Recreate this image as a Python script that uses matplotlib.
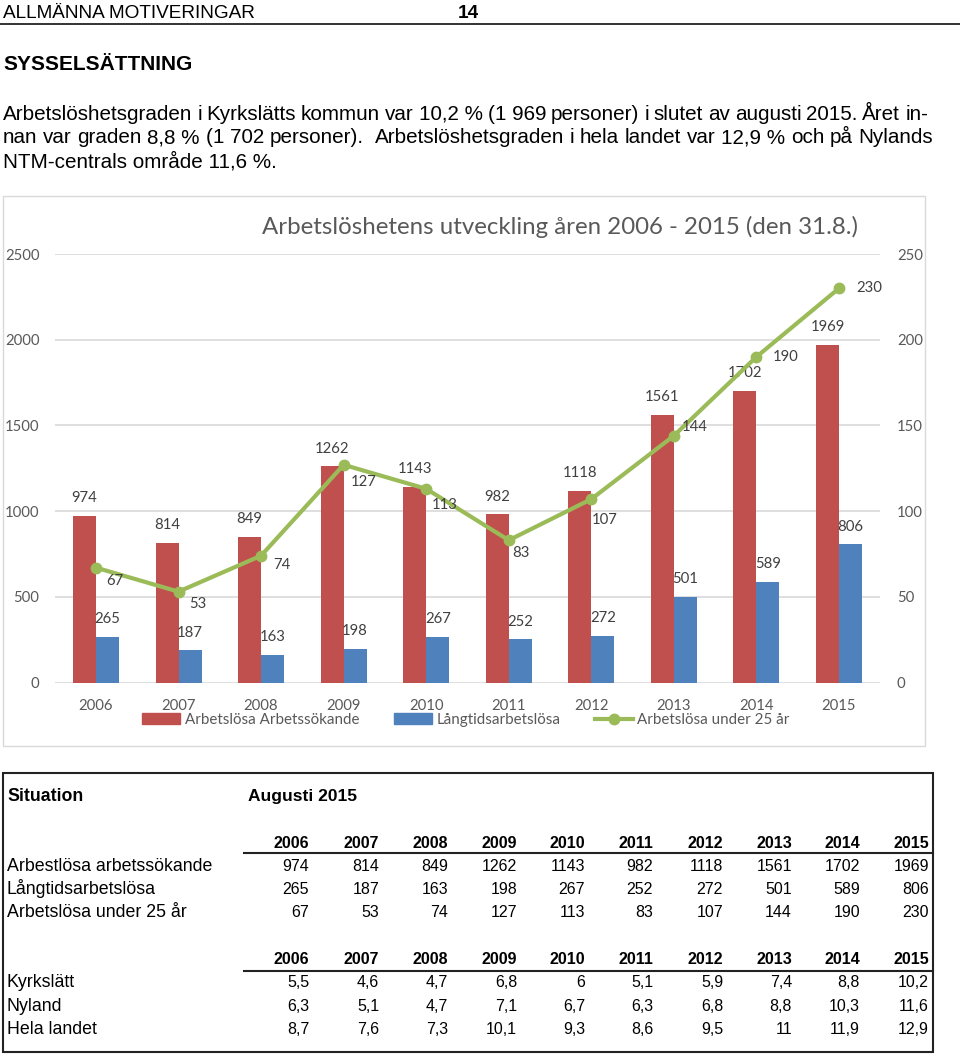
import matplotlib

matplotlib.use("Agg")
import matplotlib.pyplot as plt
from matplotlib.lines import Line2D
from matplotlib.patches import Patch, Rectangle

W, H = 960, 1055

years = ["2006", "2007", "2008", "2009", "2010", "2011", "2012", "2013", "2014", "2015"]
arbetssokande = [974, 814, 849, 1262, 1143, 982, 1118, 1561, 1702, 1969]
langtid = [265, 187, 163, 198, 267, 252, 272, 501, 589, 806]
under25 = [67, 53, 74, 127, 113, 83, 107, 144, 190, 230]

kyrkslatt = [5.5, 4.6, 4.7, 6.8, 6, 5.1, 5.9, 7.4, 8.8, 10.2]
nyland = [6.3, 5.1, 4.7, 7.1, 6.7, 6.3, 6.8, 8.8, 10.3, 11.6]
hela_landet = [8.7, 7.6, 7.3, 10.1, 9.3, 8.6, 9.5, 11, 11.9, 12.9]

RED = "#C0504D"
BLUE = "#4F81BD"
GREEN = "#9BBB59"
GRID = "#D9D9D9"
AXIS_TXT = "#595959"
LABEL_TXT = "#404040"

DOC_FONT = ["Liberation Sans", "DejaVu Sans"]
CHART_FONT = ["Lato", "DejaVu Sans"]


def fx(x):
    return x / W


def fy(y):
    return 1 - y / H


def comma(v):
    return f"{v:g}".replace(".", ",")


def justified(fig, text, x0, x1, base, **kw):
    """Place words so the line runs from x0 to x1 (pixels); a double space gives a double gap."""
    renderer = fig.canvas.get_renderer()
    words = text.split(" ")
    arts = [fig.text(0, fy(base), w, va="baseline", **kw) for w in words]
    widths = [a.get_window_extent(renderer).width if w else 0 for a, w in zip(arts, words)]
    gap = (x1 - x0 - sum(widths)) / (len(words) - 1)
    pos = x0
    for a, w in zip(arts, widths):
        a.set_x(fx(pos))
        pos += w + gap


fig = plt.figure(figsize=(W / 100, H / 100), dpi=100)

# --- page header and paragraph ---
fig.text(fx(3), fy(18), "ALLMÄNNA MOTIVERINGAR", family=DOC_FONT, fontsize=13.7, va="baseline")
fig.text(fx(458), fy(18), "14", family=DOC_FONT, fontsize=13.7, weight="bold", va="baseline")
fig.add_artist(Line2D([0, 1], [fy(24), fy(24)], color="#333333", lw=1.4))
fig.text(fx(3), fy(70), "SYSSELSÄTTNING", family=DOC_FONT, fontsize=15, weight="bold", va="baseline")

paragraph = [
    "Arbetslöshetsgraden i Kyrkslätts kommun var 10,2\u00a0% (1\u00a0969 personer) i slutet av augusti 2015. Året in-",
    "nan var graden 8,8\u00a0% (1\u00a0702 personer).  Arbetslöshetsgraden i hela landet var 12,9\u00a0% och på Nylands",
    "NTM-centrals område 11,6 %.",
]
justified(fig, paragraph[0], 3, 928, 120, family=DOC_FONT, fontsize=14.9)
justified(fig, paragraph[1], 3, 933, 143, family=DOC_FONT, fontsize=14.9)
fig.text(fx(3), fy(167), paragraph[2], family=DOC_FONT, fontsize=14.9, va="baseline")

# --- chart ---
fig.add_artist(Rectangle((fx(3), fy(746)), fx(925) - fx(3), fy(196) - fy(746),
                         transform=fig.transFigure, fill=False, edgecolor=GRID, lw=1))
fig.text(fx(560), fy(227), "Arbetslöshetens utveckling åren 2006 - 2015 (den 31.8.)",
         family=CHART_FONT, fontsize=17.3, color=AXIS_TXT, ha="center", va="center")

ax = fig.add_axes([fx(54.7), fy(682.5), fx(880.3) - fx(54.7), fy(254) - fy(682.5)])
x = list(range(len(years)))
bw = 0.279
red_bars = ax.bar([i - bw / 2 for i in x], arbetssokande, bw, color=RED, zorder=2)
blue_bars = ax.bar([i + bw / 2 for i in x], langtid, bw, color=BLUE, zorder=2)
ax.set_xlim(-0.5, len(years) - 0.5)
ax.set_ylim(0, 2500)
ax.set_yticks(range(0, 2501, 500))
ax.set_xticks(x)
ax.set_xticklabels(years)
ax.yaxis.grid(True, color=GRID, lw=1.2, zorder=0)
ax.set_axisbelow(True)
for s in ax.spines.values():
    s.set_visible(False)
ax.tick_params(length=0, labelsize=10.7, labelcolor=AXIS_TXT)
ax.tick_params(axis="y", pad=11)
ax.tick_params(axis="x", pad=12)
for t in ax.get_xticklabels() + ax.get_yticklabels():
    t.set_family(CHART_FONT)

for bars in (red_bars, blue_bars):
    for b in bars:
        ax.annotate(f"{int(b.get_height())}", (b.get_x() + b.get_width() / 2, b.get_height()),
                    xytext=(0, 12.7), textcoords="offset points", ha="center", va="center",
                    family=CHART_FONT, fontsize=10.7, color=LABEL_TXT)

ax2 = ax.twinx()
ax2.set_ylim(0, 250)
ax2.set_yticks(range(0, 251, 50))
for s in ax2.spines.values():
    s.set_visible(False)
ax2.tick_params(length=0, labelsize=10.7, labelcolor=AXIS_TXT, pad=12)
for t in ax2.get_yticklabels():
    t.set_family(CHART_FONT)
ax2.plot(x, under25, color=GREEN, lw=3, marker="o", ms=7.5, zorder=3)

# label offsets in pixels (right, down) from each point
green_offsets = [(10, 13), (11, 12), (12, 9), (7, 17), (6, 16), (3, 13), (0, 21), (8, -9), (16, 0), (17, 0)]
for i, v in enumerate(under25):
    dx, dy = green_offsets[i]
    ax2.annotate(str(v), (i, v), xytext=(dx * 0.72, -dy * 0.72), textcoords="offset points",
                 ha="left", va="center", family=CHART_FONT, fontsize=10.7, color=LABEL_TXT)

handles = [
    Patch(color=RED, label="Arbetslösa Arbetssökande"),
    Patch(color=BLUE, label="Långtidsarbetslösa"),
    Line2D([], [], color=GREEN, lw=3, marker="o", ms=7.5, label="Arbetslösa under 25 år"),
]
fig.legend(handles=handles, loc="center", bbox_to_anchor=(fx(466), fy(720)), ncol=3, frameon=False,
           prop={"family": CHART_FONT, "size": 10.9}, labelcolor=AXIS_TXT, handlelength=2.5,
           handletextpad=0.3, columnspacing=2.3, borderpad=0)

# --- table ---
fig.add_artist(Rectangle((fx(3), fy(1052)), fx(933) - fx(3), fy(773) - fy(1052),
                         transform=fig.transFigure, fill=False, edgecolor="#222222", lw=1.5))
fig.text(fx(7), fy(801), "Situation", family=DOC_FONT, fontsize=12.8, weight="bold", va="baseline")
fig.text(fx(248), fy(801), "Augusti 2015", family=DOC_FONT, fontsize=12.5, weight="bold", va="baseline")

col_right = [309, 379, 448, 517, 585, 653, 723, 792, 860, 929]

blocks = [
    (848, 853, [("Arbestlösa arbetssökande", [str(v) for v in arbetssokande], 871),
                ("Långtidsarbetslösa", [str(v) for v in langtid], 894),
                ("Arbetslösa under 25 år", [str(v) for v in under25], 917)]),
    (964, 971, [("Kyrkslätt", [comma(v) for v in kyrkslatt], 987),
                ("Nyland", [comma(v) for v in nyland], 1011),
                ("Hela landet", [comma(v) for v in hela_landet], 1034)]),
]
for head_base, rule_y, rows in blocks:
    for yr, cx in zip(years, col_right):
        fig.text(fx(cx), fy(head_base), yr, family=DOC_FONT, fontsize=11.5, weight="bold",
                 ha="right", va="baseline")
    fig.add_artist(Line2D([fx(244), fx(933)], [fy(rule_y), fy(rule_y)], color="#222222", lw=1.5))
    for name, vals, base in rows:
        fig.text(fx(7), fy(base), name, family=DOC_FONT, fontsize=12.8, va="baseline")
        for val, cx in zip(vals, col_right):
            fig.text(fx(cx), fy(base), val, family=DOC_FONT, fontsize=11.5, ha="right", va="baseline")

fig.savefig("out.png", dpi=100)
